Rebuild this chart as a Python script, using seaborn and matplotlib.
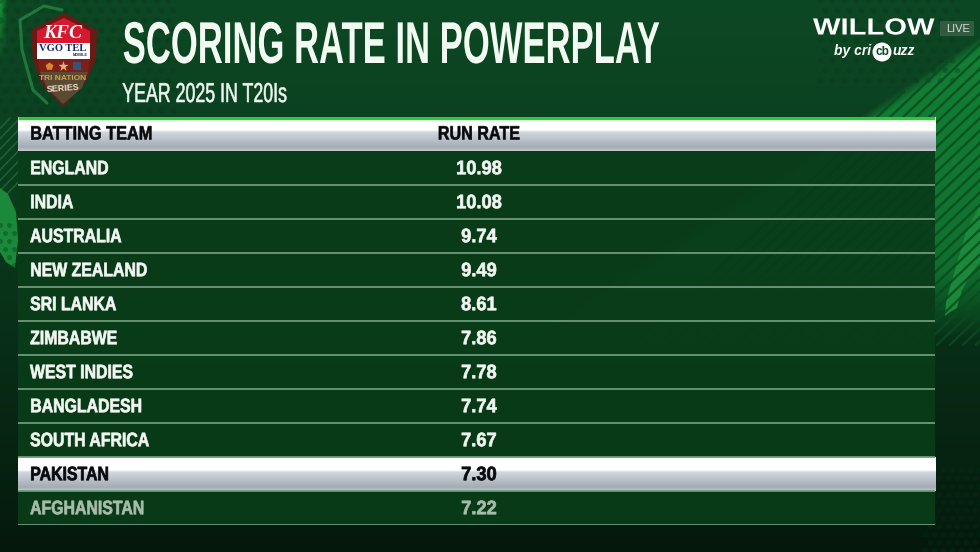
import numpy as np
import pandas as pd
import matplotlib
matplotlib.use('Agg')
import matplotlib.pyplot as plt
import matplotlib.patheffects as pe
from matplotlib.colors import LinearSegmentedColormap, ListedColormap
from matplotlib.patches import Polygon, Circle, Rectangle
from matplotlib.transforms import Affine2D, Bbox
import seaborn as sns

title = "SCORING RATE IN POWERPLAY"
subtitle = "YEAR 2025 IN T20Is"
headers = ["BATTING TEAM", "RUN RATE"]
teams = ["ENGLAND", "INDIA", "AUSTRALIA", "NEW ZEALAND", "SRI LANKA", "ZIMBABWE",
         "WEST INDIES", "BANGLADESH", "SOUTH AFRICA", "PAKISTAN", "AFGHANISTAN"]
run_rates = [10.98, 10.08, 9.74, 9.49, 8.61, 7.86, 7.78, 7.74, 7.67, 7.30, 7.22]
highlight_team = "PAKISTAN"
faded_team = "AFGHANISTAN"

sns.set_theme(style="white")
sans = ["Liberation Sans", "DejaVu Sans"]
W, H = 980, 552


# no condensed face is installed, so squeeze the glyphs sideways when they are drawn
class Squeeze(pe.AbstractPathEffect):
    def __init__(self, sx, center=False, heavy=0):
        super().__init__()
        self.sx = sx
        self.center = center
        self.heavy = heavy

    def draw_path(self, renderer, gc, tpath, affine, rgbFace=None):
        ext = tpath.get_extents()
        x0 = (ext.x0 + ext.x1) / 2 if self.center else ext.x0
        squeezed = Affine2D().translate(-x0, 0).scale(self.sx, 1).translate(x0, 0) + affine
        gc0 = renderer.new_gc()
        gc0.copy_properties(gc)
        if self.heavy:
            gc0.set_linewidth(self.heavy)
            gc0.set_foreground(rgbFace)
        renderer.draw_path(gc0, tpath, squeezed, rgbFace)
        gc0.restore()


def label(ax, x, y, s, sx, center=False, heavy=0, **kw):
    t = ax.text(x, y, s, family=sans, va="center", ha="center" if center else "left",
                path_effects=[Squeeze(sx, center, heavy)], **kw)
    full_extent = t.get_window_extent

    # report the box that is really drawn, not the unsqueezed one
    def drawn_extent(renderer=None, dpi=None):
        bb = full_extent(renderer, dpi)
        if center:
            mid = (bb.x0 + bb.x1) / 2
            return Bbox.from_extents(mid - bb.width * sx / 2, bb.y0, mid + bb.width * sx / 2, bb.y1)
        return Bbox.from_extents(bb.x0, bb.y0, bb.x0 + bb.width * sx, bb.y1)

    t.get_window_extent = drawn_extent
    return t


fig = plt.figure(figsize=(9.8, 5.52), dpi=100)

# --- background, in pixel coordinates ---
bg = fig.add_axes([0, 0, 1, 1])
yy, xx = np.mgrid[0:H, 0:W]
shade = 1 - 0.66 * (yy / H) ** 1.3
left = np.clip(1 - xx / 7, 0, 1) * np.clip(1 - yy / 60, 0, 1)
img = np.zeros((H, W, 3))
img[..., 0] = 0.05 * shade + left * 0.05
img[..., 1] = 0.28 * shade + left * 0.3
img[..., 2] = 0.14 * shade + left * 0.08
# brighter wedge top right, gone by about a third of the way down the table
edge = np.clip(((yy - 115) + (xx - 860) * 0.667) / 14, 0, 1)
fade = np.clip((340 - yy) / 70, 0, 1)
boost = edge * fade
img[..., 0] += boost * 0.02
img[..., 1] += boost * 0.23
img[..., 2] += boost * 0.07
bg.imshow(img, extent=[0, W, H, 0], aspect="auto", interpolation="bilinear")

# diagonal stripes, each one runs from the wedge edge down to y=345
for c in range(1000, 1345, 13):
    ya = max((1041 - c) / 0.45, 0)
    bg.plot([c - 1.05 * ya, c - 1.05 * 345], [ya, 345], color="#0b4a20", lw=1.7, alpha=0.85)
# brush stroke on the right and on the left edge
bg.add_patch(Polygon([(980, 205), (966, 232), (955, 270), (946, 302), (945, 316), (950, 312), (957, 308),
                      (962, 290), (972, 272), (980, 262)], color="#1a8a3a", lw=0))
bg.add_patch(Polygon([(0, 188), (8, 194), (16, 212), (18, 240), (15, 268), (6, 262), (0, 252)],
                     color="#1a8a3a", lw=0))
for x0 in range(-30, 50, 10):
    bg.plot([x0 + 40, x0 - 35], [118, 196], color="#2a8a48", lw=1.1, alpha=0.5)

# hex texture behind the logo, the Willow mark and the lower corners
hex_blocks = [(0, 170, 0, 115, 24, 0.3), (820, 960, 0, 90, 20, 0.3),
              (0, 18, 225, 290, 16, 0.35), (925, 980, 470, 552, 18, 0.3)]
for xa, xb, ya, yb, sz, al in hex_blocks:
    hx, hy = np.meshgrid(np.arange(xa, xb, 9 if sz < 20 else 12), np.arange(ya, yb, 8 if sz < 20 else 10))
    hx = hx + (np.arange(hx.shape[0]) % 2)[:, None] * 5
    bg.scatter(hx.ravel(), hy.ravel(), s=sz, marker="h", color="#06331a", alpha=al, lw=0)

# --- logo ---
bg.plot([47, 33, 22, 20, 44, 62], [103, 90, 50, 20, 6, 10], color="#2f9a4a", lw=2.2, alpha=0.6)
shield = [(64, 13), (97, 30), (96, 58), (87, 80), (63, 107), (42, 84), (33, 60), (31, 30)]
bg.add_patch(Polygon(shield, color="#6a1a14", lw=0))
bg.add_patch(Polygon([(64, 18), (90, 31), (90, 43), (37, 43), (37, 31)], color="#d8192d", lw=0))
bg.add_patch(Rectangle((37, 43), 53, 16, color="white", lw=0))
bg.add_patch(Polygon([(38, 59), (90, 59), (88, 72), (40, 72)], color="#7c2018", lw=0))
bg.add_patch(Polygon([(40, 72), (88, 72), (82, 88), (63, 104), (47, 88)], color="#5a4a34", lw=0))
bg.scatter([49], [66], s=34, marker="p", color="#d9892a", lw=0)
bg.scatter([63], [66], s=60, marker="*", color="#e8b07a", lw=0)
bg.scatter([77], [66], s=38, marker="s", color="#34527c", lw=0)
bg.text(63, 33, "KFC", color="white", fontsize=14, fontweight="bold", family="Liberation Serif",
        ha="center", va="center", style="italic")
bg.text(63, 48.5, "VGO TEL", color="#1a2a6e", fontsize=7.6, fontweight="bold", family="Liberation Serif",
        ha="center", va="center")
bg.text(80, 55.5, "MOBILE", color="#1a2a6e", fontsize=2.8, fontweight="bold", family=sans,
        ha="center", va="center")
bg.text(63, 79, "TRI NATION", color="#c9a24a", fontsize=6, fontweight="bold", family=sans,
        ha="center", va="center")
bg.text(63, 88, "SERIES", color="#f0dcc8", fontsize=6.5, fontweight="bold", family=sans,
        ha="center", va="center", rotation=4)

# --- headings and broadcaster mark ---
label(bg, 122, 47.5, title, 0.587, color="#f2fbf2", fontsize=42.5, fontweight="bold")
label(bg, 122, 95, subtitle, 0.65, heavy=0.4, color="#eef8ee", fontsize=19.7)
label(bg, 813, 28, "WILLOW", 1.25, color="white", fontsize=16.8, fontweight="bold")
bg.add_patch(Rectangle((940, 21), 34, 15, color="#4d6a55", alpha=0.6, lw=0))
bg.text(958, 28.5, "LIVE", color="#d5ddd5", fontsize=8, ha="center", va="center", family=sans)
bg.text(834, 51, "by cri", color="white", fontsize=10, fontweight="bold", style="italic",
        family=sans, ha="left", va="center")
bg.add_patch(Circle((882, 52), 9.5, color="white", lw=0))
bg.text(882, 52, "cb", color="#0c4a20", fontsize=8.5, fontweight="bold", ha="center", va="center",
        family=sans)
bg.text(892, 51, "uzz", color="white", fontsize=10, fontweight="bold", style="italic",
        family=sans, ha="left", va="center")
bg.set_xlim(0, W)
bg.set_ylim(H, 0)
bg.axis("off")

# --- table ---
df = pd.DataFrame({"rate": [np.nan] + run_rates}, index=[headers[0]] + teams)
mask = df.isna() | (df.index == highlight_team).reshape(-1, 1)
tx0, tx1, ty0, ty1 = 18, 935, 117, 525
ax = fig.add_axes([tx0 / W, 1 - ty1 / H, (tx1 - tx0) / W, (ty1 - ty0) / H])
ax.patch.set_alpha(0)
sns.heatmap(df, mask=mask, ax=ax, cbar=False, cmap=ListedColormap(["#093c19"]),
            xticklabels=False, yticklabels=False, alpha=0.94)
ax.set_xlabel("")
ax.set_ylabel("")

grad = LinearSegmentedColormap.from_list(
    "band", [(0, "#ffffff"), (0.38, "#ffffff"), (0.44, "#d3d7de"), (0.9, "#a3abb4"), (1, "#c4cace")])
ramp = np.linspace(0, 1, 64).reshape(-1, 1)
for r in [0, teams.index(highlight_team) + 1]:
    ax.imshow(ramp, cmap=grad, extent=[0, 1, r + 1, r], aspect="auto", zorder=2)
ax.set_xlim(0, 1)
ax.set_ylim(len(df), 0)

ax.hlines(np.arange(2, len(df) + 1), 0, 1, color="#6f9a7c", lw=1.3, zorder=3)
ax.hlines(0.02, 0, 1, color="#37c23f", lw=2.5, zorder=4)

team_x = 12 / (tx1 - tx0)
rate_x = 461 / (tx1 - tx0)
label(ax, team_x, 0.53, headers[0], 0.84, heavy=0.4, color="#07090c", fontsize=14, fontweight="bold", zorder=5)
label(ax, rate_x, 0.53, headers[1], 0.83, center=True, heavy=0.4, color="#07090c", fontsize=14, fontweight="bold", zorder=5)
for i, (team, rate) in enumerate(zip(teams, run_rates), start=1):
    col = "#f2f7f2"
    if team == highlight_team:
        col = "#07090c"
    elif team == faded_team:
        col = "#a9bcab"
    label(ax, team_x, i + 0.55, team, 0.815, heavy=0.5, color=col, fontsize=14, fontweight="bold", zorder=5)
    label(ax, rate_x, i + 0.55, f"{rate:.2f}", 0.94, center=True, heavy=0.5, color=col, fontsize=14, fontweight="bold", zorder=5)

fig.savefig("out.png", dpi=100)
